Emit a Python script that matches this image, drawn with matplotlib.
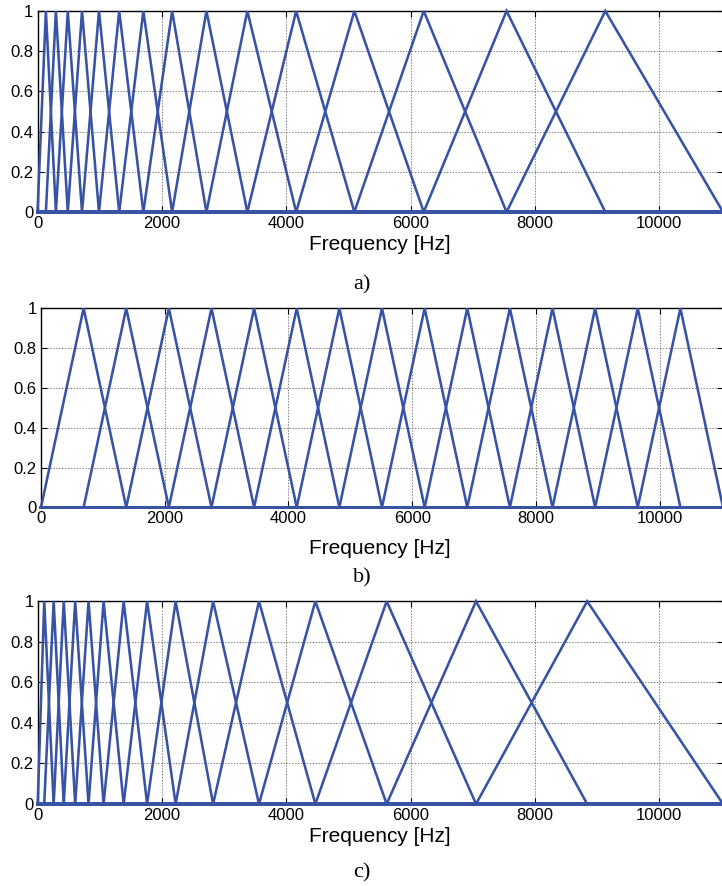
import matplotlib
matplotlib.use("Agg")
import matplotlib.pyplot as plt

# Peak (centre) frequencies of the triangular filters [Hz]
F_MAX = 11025
peaks_a = [135, 296, 487, 716, 989, 1314, 1702, 2165, 2717, 3375, 4160, 5096, 6212, 7544, 9132]
peaks_b = [689, 1378, 2067, 2756, 3445, 4134, 4823, 5512, 6202, 6891, 7580, 8269, 8958, 9647, 10336]
peaks_c = [105, 257, 419, 603, 818, 1060, 1383, 1760, 2219, 2822, 3560, 4467, 5614, 7052, 8840]

xticks = [0, 2000, 4000, 6000, 8000, 10000]
xticklabels = ["0", "2000", "4000", "6000", "8000", "10000"]
yticks = [0, 0.2, 0.4, 0.6, 0.8, 1.0]
yticklabels = ["0", "0.2", "0.4", "0.6", "0.8", "1"]
xlabel = "Frequency [Hz]"
captions = ["a)", "b)", "c)"]

LINE = "#3953a4"
W, H = 722, 886

fig = plt.figure(figsize=(W / 100, H / 100), dpi=100)

# axes boxes in pixels: left, top, right, bottom
boxes = [(37.5, 11, 723, 212), (41, 308.3, 723, 507.3), (37.7, 601.3, 723, 804)]
label_y = [245, 548, 837]
caption_y = [285, 578, 873]

for peaks, (l, t, r, b), ly, cy, cap in zip([peaks_a, peaks_b, peaks_c], boxes, label_y, caption_y, captions):
    ax = fig.add_axes([l / W, 1 - b / H, (r - l) / W, (b - t) / H])
    edges = [0] + list(peaks) + [F_MAX]
    for i in range(1, len(edges) - 1):
        xs = [0, edges[i - 1], edges[i], edges[i + 1], F_MAX]
        ys = [0, 0, 1, 0, 0]
        ax.plot(xs, ys, color=LINE, lw=1.85, zorder=3, clip_on=False, solid_joinstyle="miter")
    ax.set_xlim(0, F_MAX)
    ax.set_ylim(0, 1)
    ax.set_xticks(xticks)
    ax.set_xticklabels(xticklabels)
    ax.set_yticks(yticks)
    ax.set_yticklabels(yticklabels)
    ax.grid(True, color="0.5", linestyle=(0, (1.5, 1.5)), linewidth=0.7, zorder=0)
    ax.set_axisbelow(True)
    ax.tick_params(direction="in", length=4, width=0.8, top=True, right=True,
                   labelsize=12, pad=3)
    for lab in ax.get_xticklabels() + ax.get_yticklabels():
        lab.set_family("Liberation Sans")
    for s in ax.spines.values():
        s.set_linewidth(1.0)
    ax.spines["right"].set_visible(False)
    fig.text(380 / W, 1 - ly / H, xlabel, ha="center", va="center",
             fontsize=15, family="Liberation Sans")
    fig.text(362 / W, 1 - cy / H, cap, ha="center", va="center",
             fontsize=16, family="Liberation Serif")

fig.savefig("out.png", dpi=100)
